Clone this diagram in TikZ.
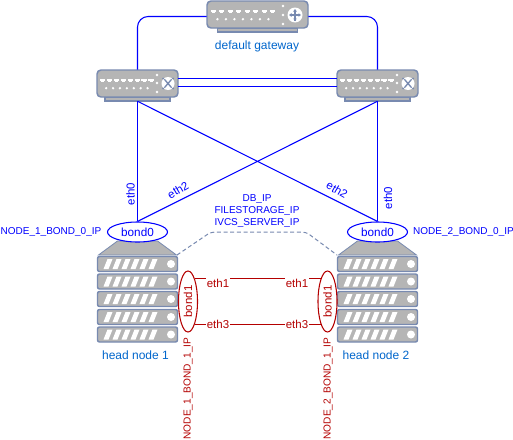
\documentclass[tikz,border=0pt]{standalone}
\usepackage{fontspec}
\setmainfont{Liberation Sans}
\usetikzlibrary{shapes.geometric}
\definecolor{netblue}{RGB}{0,0,255}
\definecolor{labelblue}{RGB}{0,102,204}
\definecolor{bondcol}{RGB}{180,0,0}
\definecolor{devgrey}{RGB}{181,181,181}
\definecolor{devedge}{RGB}{120,138,176}
\tikzset{
  x=0.75pt,y=-0.75pt,
  net/.style={draw=netblue,line width=0.8pt},
  redline/.style={draw=bondcol,line width=0.8pt},
  bluetxt/.style={text=netblue,font=\fontsize{7.5}{9}\selectfont,inner sep=0pt},
  ethtxt/.style={text=netblue,font=\fontsize{8.6}{10}\selectfont,inner sep=0pt},
  caption/.style={text=labelblue,font=\fontsize{9}{10}\selectfont,inner sep=0pt},
  redtxt/.style={text=bondcol,font=\fontsize{8.6}{10}\selectfont,inner sep=0pt},
  ethred/.style={redtxt,fill=white,inner xsep=0.5pt,inner ysep=1.5pt},
  redsmall/.style={text=bondcol,font=\fontsize{7.6}{9}\selectfont,inner sep=0pt,rotate=90},
  bondblue/.style={ellipse,draw=netblue,line width=0.8pt,fill=white,minimum width=45pt,minimum height=15pt,inner sep=0pt,text=netblue,font=\fontsize{8.8}{10}\selectfont},
  bondred/.style={ellipse,draw=bondcol,line width=0.8pt,fill=white,minimum width=14.25pt,minimum height=45.75pt,inner sep=0pt},
  anchorbox/.style={inner sep=0pt,minimum height=22.5pt},
  dev/.style={fill=devgrey,draw=devedge,line width=1.1pt},
}
% switch body centred on x=#1, with top y=#2; half width #3, foot half width #4, port pitch #5, start #6, port count minus one #7
\newcommand{\swbody}[7]{%
  \begin{scope}[shift={(#1,#2)}]
    \draw[dev] (-#4,27) rectangle (#4,31);
    \draw[dev,rounded corners=3pt] (-#3,0) rectangle (#3,27);
    \foreach \i in {0,...,#7}{
      \fill[white] (#6+\i*#5,8.5) rectangle +(5.4,2.4);
      \fill[white] (#6+1.2+\i*#5,10.5) rectangle +(3,1.6);
    }
    \pgfmathtruncatemacro{\last}{#7-1}
    \foreach \i in {0,...,\last}{
      \fill[white] (#6+2.7+\i*#5+#5/2,18.2) circle (1.3);
    }
  \end{scope}}
% router/switch side dots and crossed arrows icon
\newcommand{\swicon}[2]{%
  \begin{scope}[shift={(#1,#2)}]
    \fill[white] (0,0) circle (6.5);
    \draw[devedge,line width=1pt] (-3.6,-4.2)--(3.6,4.2) (-3.6,4.2)--(3.6,-4.2);
    \foreach \a/\b in {-5/-5,5/-5,-5/5,5/5}{\fill[devedge] (\a,\b) circle (1);}
    \foreach \y in {-8.5,-0.5,8.5}{\fill[white] (-11,\y) circle (1.3);}
  \end{scope}}
\newcommand{\rack}[1]{%
  \begin{scope}[shift={(#1,0)}]
    \draw[fill=devgrey,draw=devedge,line width=0.6pt] (-39,255) -- (-20,241) -- (20,241) -- (39,255) -- cycle;
    \foreach \y in {256.5,274,291.5,309.5,327}{
      \draw[dev,rounded corners=1.5pt] (-40,\y) rectangle (40,\y+15);
      \foreach \i in {0,...,5}{
        \fill[white] (-34+\i*9,\y+12.5) -- (-29+\i*9,\y+12.5) -- (-25+\i*9,\y+2.5) -- (-30+\i*9,\y+2.5) -- cycle;
      }
      \fill[white] (33.5,\y+7.5) circle (4);
    }
  \end{scope}}
\begin{document}
\begin{tikzpicture}
\useasboundingbox (0,0) rectangle (513,439);
\fill[white] (0,0) rectangle (513,439);
% devices
\swbody{257.5}{1}{50.5}{40}{8.5}{-47}{7}
\begin{scope}[shift={(295,15)}]
  \fill[white] (0,0) circle (7.5);
  \draw[devedge,line width=0.9pt] (-5,0)--(5,0) (0,-5.5)--(0,5.5);
  \fill[devedge] (-6,0)--(-3.5,-1.8)--(-3.5,1.8)--cycle (6,0)--(3.5,-1.8)--(3.5,1.8)--cycle;
  \fill[devedge] (0,-6)--(-1.8,-3.5)--(1.8,-3.5)--cycle (0,6)--(-1.8,3.5)--(1.8,3.5)--cycle;
  \foreach \y in {-9,0,9}{\fill[white] (-12,\y) circle (1.3);}
\end{scope}
\swbody{137.5}{70}{40.5}{32.5}{6.9}{-37.5}{7}\swicon{168}{83.5}
\swbody{377.5}{70}{40.5}{32.5}{6.9}{-37.5}{7}\swicon{408}{83.5}
\rack{137.5}\rack{377.5}
% named nodes
\node[anchorbox,minimum width=75.75pt] (gw) at (257.5,16.5) {};
\node[anchorbox,minimum width=60.75pt,minimum height=23.25pt] (swl) at (137.5,85.5) {};
\node[anchorbox,minimum width=60.75pt,minimum height=23.25pt] (swr) at (377.5,85.5) {};
\node[bondblue] (b0l) at (137.5,232) {bond0};
\node[bondblue] (b0r) at (377.5,232) {bond0};
\node[bondred] (b1l) at (188,301.5) {};
\node[bondred] (b1r) at (327.5,301.5) {};
% connectors
\coordinate (h1) at (0,78.5);
\coordinate (h2) at (0,86.5);
\draw[net,rounded corners=8pt] (gw.west) -| (swl.north);
\draw[net,rounded corners=8pt] (gw.east) -| (swr.north);
\draw[net] (swl.east |- h1)--(swr.west |- h1);
\draw[net] (swl.east |- h2)--(swr.west |- h2);
\draw[net] (swl.south)--(b0l.north) (swr.south)--(b0r.north);
\draw[net] (swl.south)--(b0r.north) (swr.south)--(b0l.north);
\coordinate (dl) at (177,255);
\coordinate (dr) at (337,255);
\draw[devedge,line width=0.75pt,dash pattern=on 3pt off 2pt,rounded corners=3pt] (dl)--(211,232)--(306,232)--(dr);
\draw[redline] (b1l.73)--(b1r.107);
\draw[redline] (b1l.-73)--(b1r.-107);
% labels
\node[redtxt,rotate=90] at (b1l) {bond1};
\node[redtxt,rotate=90] at (b1r) {bond1};
\node[ethred] at (218,283) {eth1};
\node[ethred] at (297,283) {eth1};
\node[ethred] at (218,324) {eth3};
\node[ethred] at (297,324) {eth3};
\node[caption] at (257,46) {default gateway};
\node[caption] at (135.5,355.5) {head node 1};
\node[caption] at (376,355.5) {head node 2};
\node[ethtxt,rotate=90] at (130.5,194) {eth0};
\node[ethtxt,rotate=90] at (388,198) {eth0};
\node[ethtxt,rotate=30] at (178,190) {eth2};
\node[ethtxt,rotate=-30] at (337,190) {eth2};
\node[bluetxt] at (51,232) {NODE\_1\_BOND\_0\_IP};
\node[bluetxt] at (463.5,232) {NODE\_2\_BOND\_0\_IP};
\node[bluetxt] at (257,199) {DB\_IP};
\node[bluetxt] at (257,211) {FILESTORAGE\_IP};
\node[bluetxt] at (257,223) {IVCS\_SERVER\_IP};
\node[redsmall] at (188,388.5) {NODE\_1\_BOND\_1\_IP};
\node[redsmall] at (328,388.5) {NODE\_2\_BOND\_1\_IP};
\end{tikzpicture}
\end{document}
